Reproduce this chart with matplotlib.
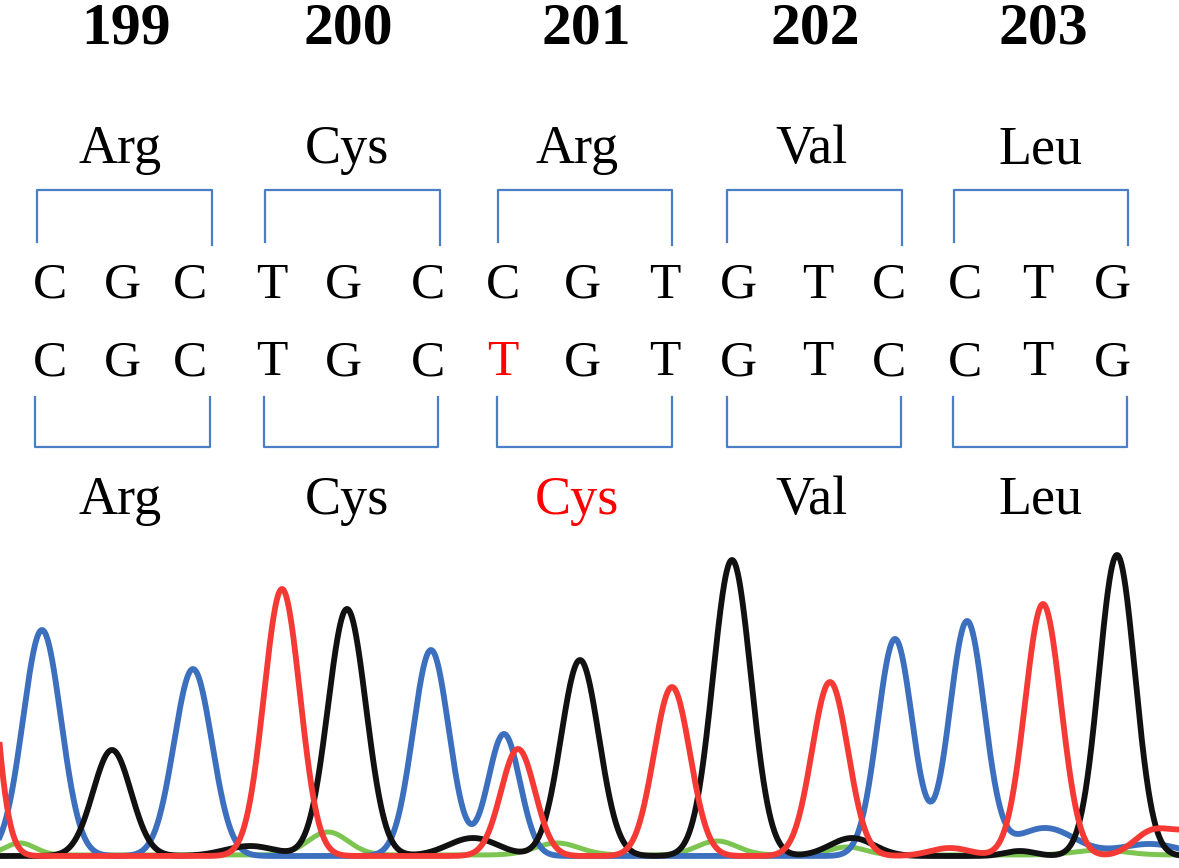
import numpy as np
import matplotlib.pyplot as plt

# codon numbers and amino acids
codon_nums = ["199", "200", "201", "202", "203"]
aa_ref = ["Arg", "Cys", "Arg", "Val", "Leu"]
aa_mut = ["Arg", "Cys", "Cys", "Val", "Leu"]
aa_centers = [120, 347, 577, 811, 1041]
num_centers = [126, 348, 586, 815, 1043]

# nucleotide rows
seq_ref = list("CGCTGCCGTGTCCTG")
seq_mut = list("CGCTGCTGTGTCCTG")
nt_x = [50, 122, 190, 272, 343, 428, 503, 582, 665, 738, 818, 889, 965, 1038, 1112]
mutated_pos = 6

# codon brackets (left, right)
brk_top = [(37, 212), (265, 440), (498, 672), (727, 902), (954, 1128)]
brk_bot = [(35, 210), (264, 438), (497, 672), (727, 901), (953, 1127)]

# chromatogram peaks: position, height, width (per dye)
blue_pos = [42, 193, 431, 504, 895, 967, 1045, 1150]
blue_h = [226, 187, 206, 122, 217, 234, 28, 12]
blue_w = [19, 19, 18, 16, 17.5, 17.5, 30, 30]

black_pos = [112, 250, 347, 473, 580, 732, 852, 1020, 1117]
black_h = [106, 10, 247, 18, 196, 296, 18, 5, 301]
black_w = [19, 25, 19, 25, 19, 19, 22, 15, 18]

red_pos = [-25, 282, 518, 672, 830, 950, 1043, 1150, 1192]
red_h = [366, 267, 107, 169, 174, 8, 252, 20, 24]
red_w = [16, 18, 17, 18, 18, 20, 18, 18, 25]

green_pos = [20, 328, 557, 717, 847, 1100]
green_h = [12, 23, 12, 14, 8, 5]
green_w = [15, 20, 22, 20, 18, 25]

W, H = 1179, 868
fig = plt.figure(figsize=(W / 100, H / 100), dpi=100)
ax = fig.add_axes([0, 0, 1, 1])
ax.set_xlim(0, W)
ax.set_ylim(H, 0)
ax.axis("off")

serif = ["Liberation Serif", "DejaVu Serif"]
brk_col = "#4a7fc6"

for x, t in zip(num_centers, codon_nums):
    ax.text(x, 43, t, ha="center", va="baseline", fontsize=43,
            fontweight="bold", family=serif)
for x, t in zip(aa_centers, aa_ref):
    ax.text(x, 163, t, ha="center", va="baseline", fontsize=39, family=serif)
for i, (x, t) in enumerate(zip(aa_centers, aa_mut)):
    c = "#ff0000" if t != aa_ref[i] else "black"
    ax.text(x, 514, t, ha="center", va="baseline", fontsize=39,
            family=serif, color=c)

for i, x in enumerate(nt_x):
    ax.text(x, 298, seq_ref[i], ha="center", va="baseline", fontsize=37,
            family=serif)
    c = "#ff0000" if i == mutated_pos else "black"
    ax.text(x, 375, seq_mut[i], ha="center", va="baseline", fontsize=37,
            family=serif, color=c)

for l, r in brk_top:
    ax.plot([l, l, r, r], [242, 190, 190, 245], color=brk_col, lw=1.6)
for l, r in brk_bot:
    ax.plot([l, l, r, r], [397, 447, 447, 397], color=brk_col, lw=1.6)

# chromatogram panel
cx = fig.add_axes([0, 0, 1, 328 / H])
cx.set_xlim(0, W)
cx.set_ylim(-12, 316)
cx.axis("off")
xs = np.linspace(-60, W + 40, 3000)


def trace(pos, h, w):
    y = np.zeros_like(xs)
    for p, a, s in zip(pos, h, w):
        y += a * np.exp(-(xs - p) ** 2 / (2 * s ** 2))
    return y


cx.plot(xs, trace(green_pos, green_h, green_w) + 1, color="#7cc550", lw=3.6)
cx.plot(xs, trace(blue_pos, blue_h, blue_w), color="#3c6fbe", lw=4.2)
cx.plot(xs, trace(black_pos, black_h, black_w), color="#111111", lw=4.2)
cx.plot(xs, trace(red_pos, red_h, red_w), color="#f53a35", lw=4.2)

fig.savefig("out.png", dpi=100)
